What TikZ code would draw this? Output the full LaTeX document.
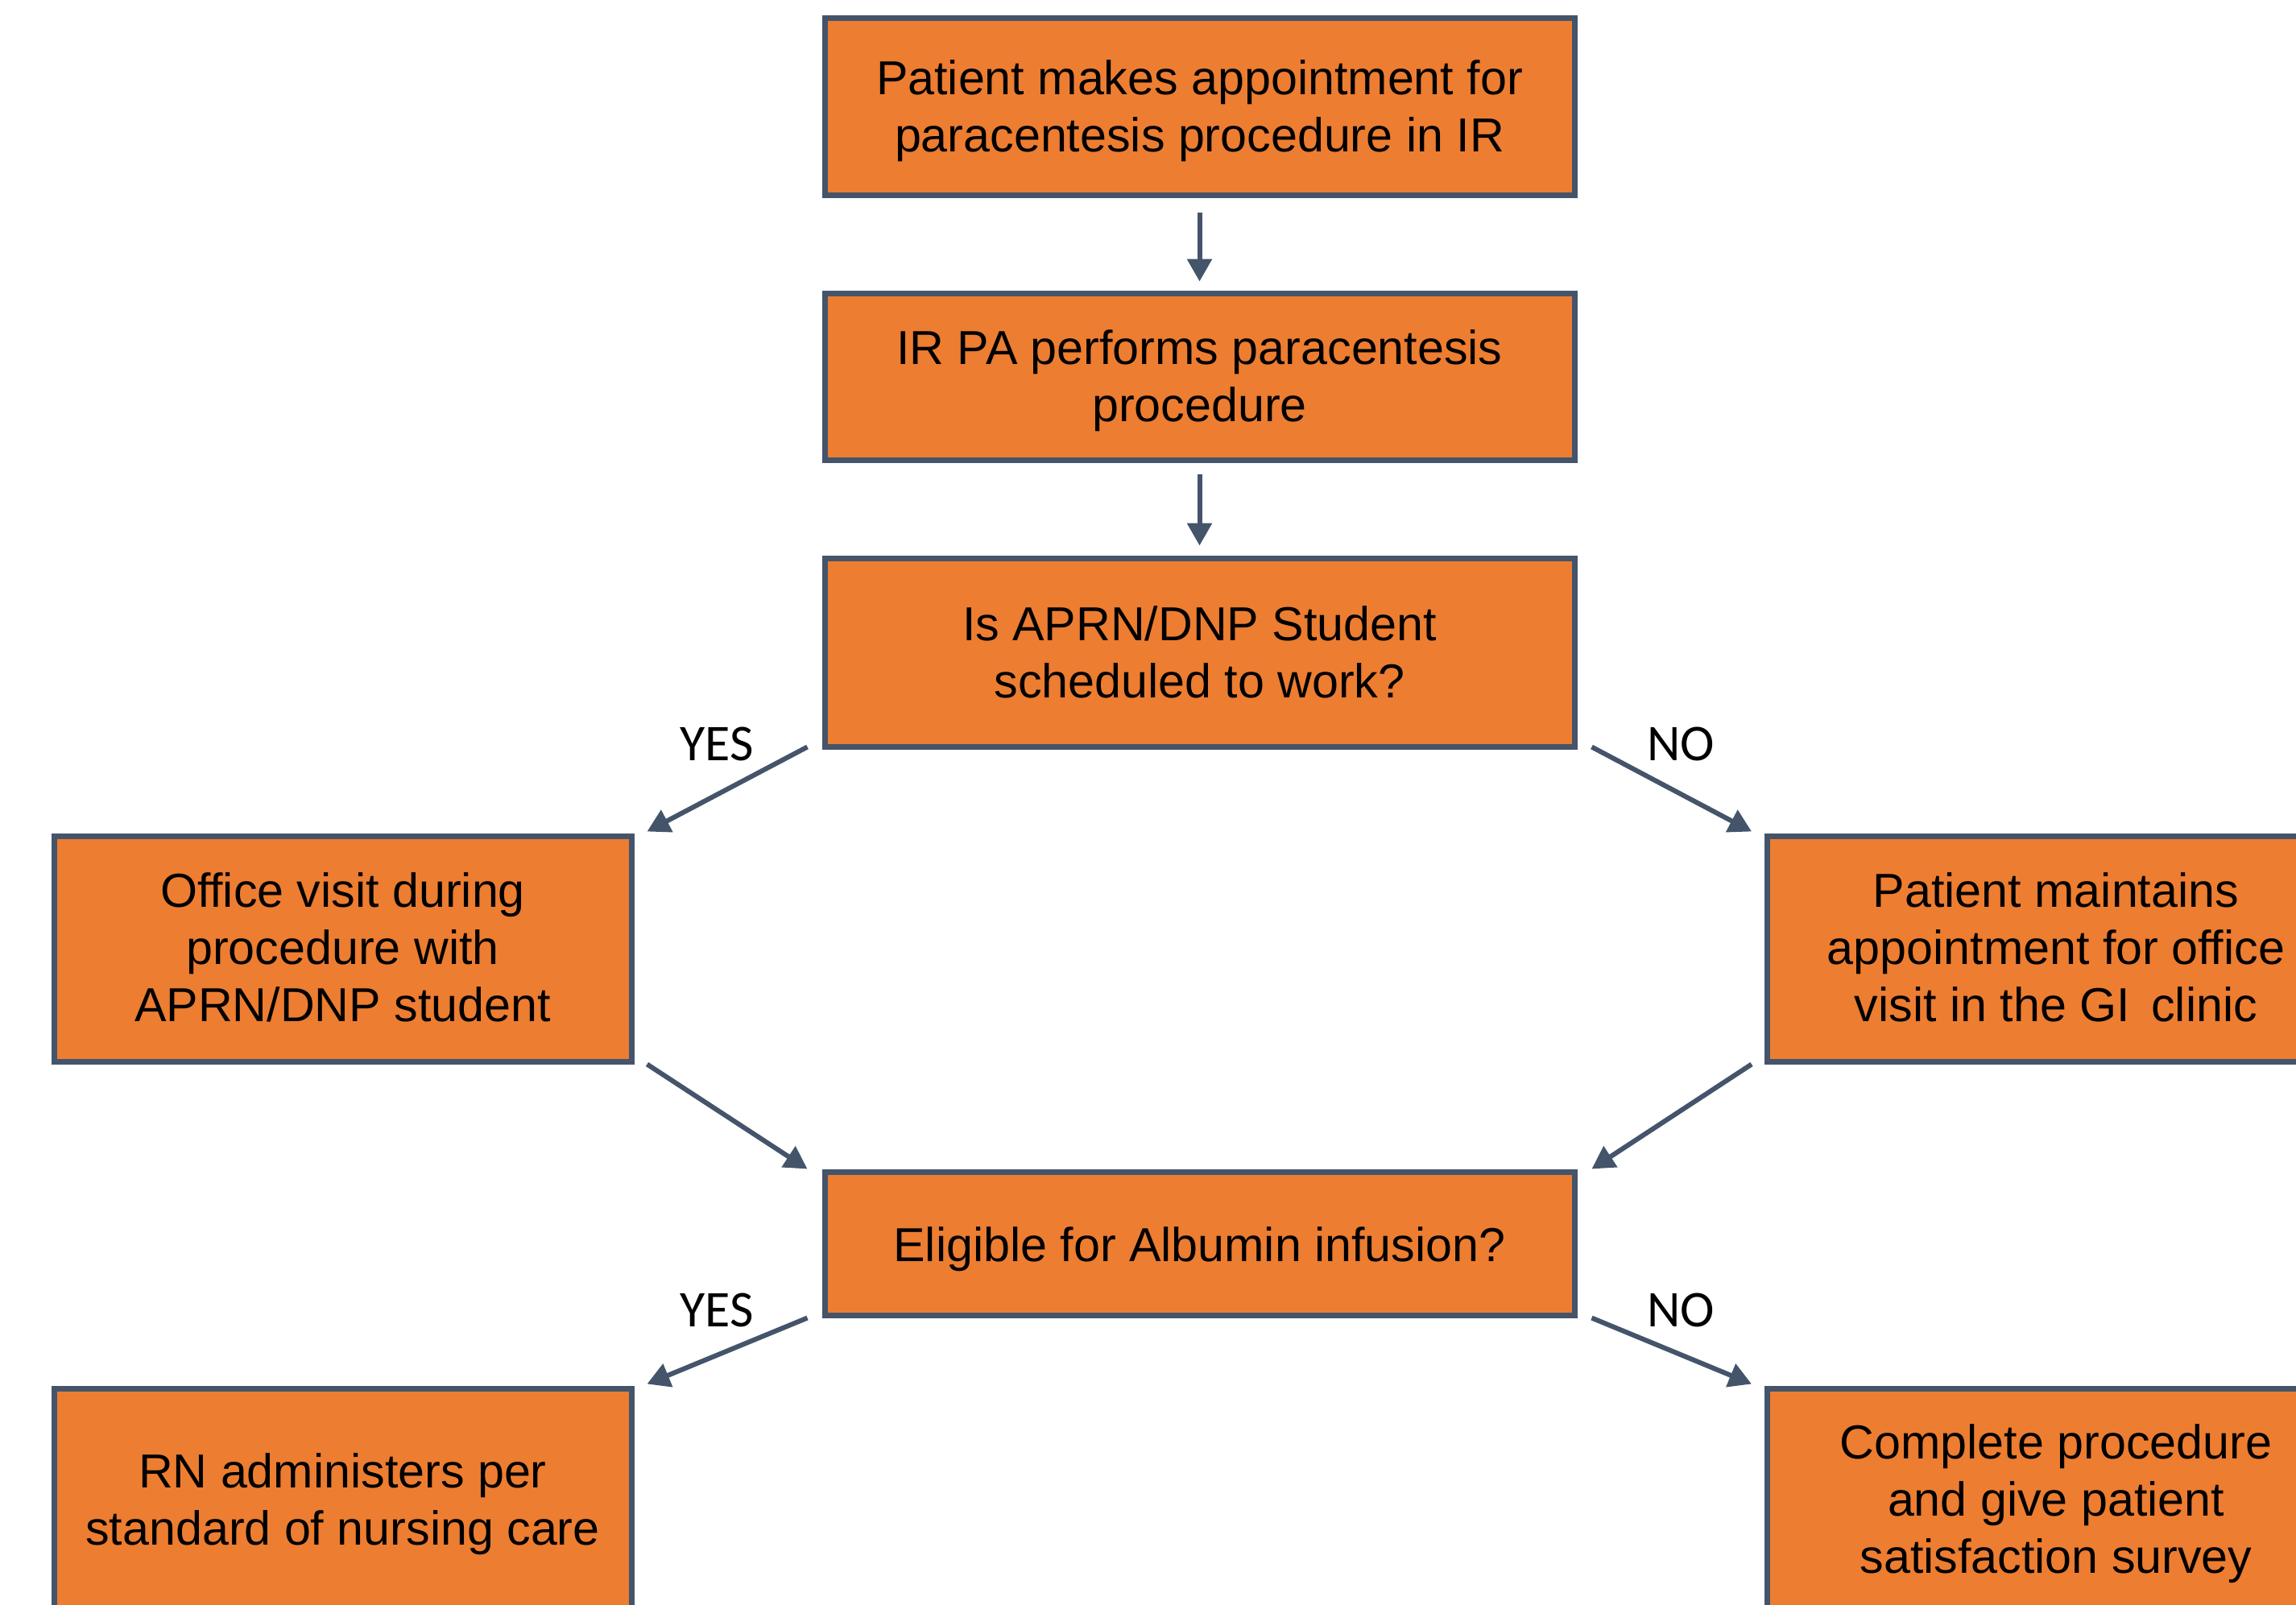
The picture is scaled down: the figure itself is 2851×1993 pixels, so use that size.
\documentclass[tikz,border=0pt]{standalone}
\usepackage{fontspec}
\setmainfont{Liberation Sans}
\newfontfamily\labelfont{Carlito}
\usetikzlibrary{arrows.meta}
\definecolor{boxorange}{HTML}{ED7D31}
\definecolor{slate}{HTML}{44546A}
\begin{document}
\begin{tikzpicture}[x=0.25pt,y=-0.25pt,
  box/.style={draw=slate, line width=1.75pt, fill=boxorange, inner sep=0pt},
  wide/.style={box, minimum width=232.75pt},
  side/.style={box, minimum width=179.25pt},
  boxtext/.style={align=center, inner sep=0pt, font=\fontsize{14.8}{17.75}\selectfont, text=black},
  arr/.style={draw=slate, line width=1.5pt, -{Triangle[length=7pt,width=7.5pt]}},
  lbl/.style={font=\labelfont\fontsize{16}{19}\selectfont, inner sep=0pt, text=black}]
\useasboundingbox (0,0) rectangle (2851,1993);
\clip (0,0) rectangle (2851,1993);
\fill[white] (0,0) rectangle (2851,1993);

\node[wide, minimum height=55pt] (b1) at (1489.5,132) {};
\node[wide, minimum height=51.75pt] (b2) at (1489.5,467.5) {};
\node[wide, minimum height=58.5pt] (b3) at (1489.5,810) {};
\node[side, minimum height=70pt] (b4) at (425.5,1178) {};
\node[side, minimum height=70pt] (b5) at (2553,1178) {};
\node[wide, minimum height=44.5pt] (b6) at (1489.5,1544) {};
\node[side, minimum height=69pt] (b7) at (425.5,1862) {};
\node[side, minimum height=69pt] (b8) at (2553,1862) {};

\node[boxtext] (t1) at ([yshift=-1.4pt]b1.center) {Patient makes appointment for\\paracentesis procedure in IR};
\node[boxtext] (t2) at ([yshift=-1.4pt]b2.center) {IR PA performs paracentesis\\procedure};
\node[boxtext] (t3) at (b3.center) {Is APRN/DNP Student\\scheduled to work?};
\node[boxtext] (t4) at ([yshift=0.45pt]b4.center) {Office visit during\\procedure with\\APRN/DNP student};
\node[boxtext] (t5) at ([yshift=0.45pt]b5.center) {Patient maintains\\appointment for office\\visit in the GI\ \,clinic};
\node[boxtext] (t6) at ([yshift=-1.8pt]b6.center) {Eligible for Albumin infusion?};
\node[boxtext] (t7) at ([yshift=-1.4pt]b7.center) {RN administers per\\standard of nursing care};
\node[boxtext] (t8) at ([yshift=-1.4pt]b8.center) {Complete procedure\\and give patient\\satisfaction survey};

\node[lbl] (y1) at (890,924) {YES};
\node[lbl] (n1) at (2087,924) {NO};
\node[lbl] (y2) at (890,1627) {YES};
\node[lbl] (n2) at (2087,1627) {NO};

\draw[arr] ([yshift=-4.5pt]b1.south) -- ([yshift=2.75pt]b2.north);
\draw[arr] ([yshift=-3.5pt]b2.south) -- ([yshift=3pt]b3.north);
\draw[arr] ([xshift=-4.5pt,yshift=0.75pt]b3.south west) -- ([xshift=4pt,yshift=0.5pt]b4.north east);
\draw[arr] ([xshift=4.5pt,yshift=0.75pt]b3.south east) -- ([xshift=-4pt,yshift=0.5pt]b5.north west);
\draw[arr] ([xshift=4pt]b4.south east) -- ([xshift=-4.5pt]b6.north west);
\draw[arr] ([xshift=-4pt]b5.south west) -- ([xshift=4.5pt]b6.north east);
\draw[arr] ([xshift=-4.5pt]b6.south west) -- ([xshift=4pt,yshift=0.5pt]b7.north east);
\draw[arr] ([xshift=4.5pt]b6.south east) -- ([xshift=-4pt,yshift=0.5pt]b8.north west);
\end{tikzpicture}
\end{document}
